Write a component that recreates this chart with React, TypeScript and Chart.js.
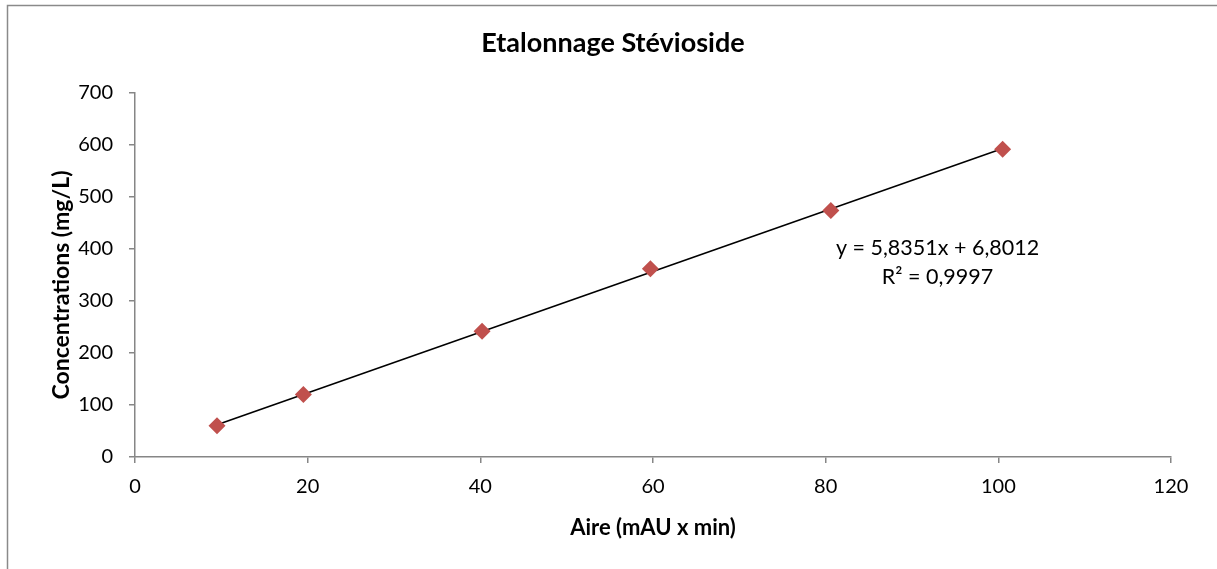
import React, { useEffect, useRef } from "react";
import { Chart, registerables } from "chart.js";

Chart.register(...registerables);

const chartTitle = "Etalonnage Stévioside";
const xAxisTitle = "Aire (mAU x min)";
const yAxisTitle = "Concentrations (mg/L)";

const areaValues = [9.5, 19.5, 40.2, 59.7, 80.6, 100.5];
const concentrationValues = [60, 120, 242, 362, 474, 592];

const slope = 5.8351;
const intercept = 6.8012;
const equationText = "y = 5,8351x + 6,8012";
const r2Text = "R² = 0,9997";

const xMin = 0;
const xMax = 120;
const xStep = 20;
const yMin = 0;
const yMax = 700;
const yStep = 100;

const FONT = "Lato, 'Open Sans', sans-serif";
const AXIS_COLOR = "#868686";
const MARKER_COLOR = "#C0504D";

export default function App() {
  const canvasRef = useRef<HTMLCanvasElement | null>(null);

  useEffect(() => {
    document.body.style.margin = "0";
    const canvas = canvasRef.current;
    if (!canvas) return;

    const scatterData = areaValues.map((x, i) => ({ x, y: concentrationValues[i] }));
    const x0 = Math.min(...areaValues);
    const x1 = Math.max(...areaValues);
    const trendData = [
      { x: x0, y: slope * x0 + intercept },
      { x: x1, y: slope * x1 + intercept },
    ];

    const framePlugin = {
      id: "frame",
      beforeDraw(chart: any) {
        const ctx = chart.ctx;
        ctx.save();
        ctx.fillStyle = "#ffffff";
        ctx.fillRect(0, 0, chart.width, chart.height);
        ctx.strokeStyle = "#8a8a8a";
        ctx.lineWidth = 1.5;
        ctx.beginPath();
        ctx.moveTo(7.5, chart.height + 5);
        ctx.lineTo(7.5, 5.5);
        ctx.lineTo(chart.width + 5, 5.5);
        ctx.stroke();
        ctx.restore();
      },
      afterDraw(chart: any) {
        const ctx = chart.ctx;
        ctx.save();
        ctx.fillStyle = "#000000";
        ctx.font = `bold 27px ${FONT}`;
        ctx.textAlign = "center";
        ctx.textBaseline = "alphabetic";
        ctx.fillText(chartTitle, 613, 52);
        ctx.restore();

        ctx.save();
        ctx.fillStyle = "#000000";
        ctx.font = `bold 23px ${FONT}`;
        ctx.textAlign = "center";
        ctx.textBaseline = "middle";
        ctx.translate(62, 285);
        ctx.rotate(-Math.PI / 2);
        ctx.fillText(yAxisTitle, 0, 0);
        ctx.restore();
      },
    };

    const equationPlugin = {
      id: "equation",
      afterDatasetsDraw(chart: any) {
        const ctx = chart.ctx;
        const xs = chart.scales.x;
        const ys = chart.scales.y;
        const cx = xs.getPixelForValue(92.96);
        const y1 = ys.getPixelForValue(388.5);
        const y2 = ys.getPixelForValue(332.7);
        ctx.save();
        ctx.fillStyle = "#000000";
        ctx.font = `21.5px ${FONT}`;
        ctx.textAlign = "center";
        ctx.textBaseline = "alphabetic";
        ctx.fillText(equationText, cx, y1);
        ctx.fillText(r2Text, cx, y2);
        ctx.restore();
      },
    };

    const chart = new Chart(canvas, {
      type: "scatter",
      data: {
        datasets: [
          {
            type: "line",
            label: "Tendance",
            data: trendData,
            borderColor: "#000000",
            borderWidth: 1.6,
            pointRadius: 0,
            fill: false,
            tension: 0,
            order: 2,
          } as any,
          {
            label: "Stévioside",
            data: scatterData,
            pointStyle: "rectRot",
            pointRadius: 8.5,
            pointHoverRadius: 8.5,
            backgroundColor: MARKER_COLOR,
            borderColor: MARKER_COLOR,
            borderWidth: 0,
            order: 1,
          },
        ],
      },
      options: {
        responsive: false,
        animation: false,
        devicePixelRatio: 1,
        layout: { padding: { left: 0, right: 46, top: 93, bottom: 0 } },
        plugins: {
          legend: { display: false },
          tooltip: { enabled: false },
          title: { display: false },
        },
        scales: {
          x: {
            type: "linear",
            min: xMin,
            max: xMax,
            ticks: {
              stepSize: xStep,
              color: "#000000",
              font: { family: FONT, size: 20 },
              padding: 12,
            },
            grid: {
              drawOnChartArea: false,
              drawTicks: true,
              tickLength: 6,
              color: AXIS_COLOR,
              lineWidth: 1.5,
            },
            border: { display: true, color: AXIS_COLOR, width: 1.5 },
            title: {
              display: true,
              text: xAxisTitle,
              color: "#000000",
              font: { family: FONT, size: 22, weight: "bold" },
              padding: { top: 0, bottom: 28 },
            },
            afterFit: (scale: any) => {
              scale.height = 112;
            },
          },
          y: {
            type: "linear",
            min: yMin,
            max: yMax,
            ticks: {
              stepSize: yStep,
              color: "#000000",
              font: { family: FONT, size: 20 },
              padding: 16,
            },
            grid: {
              drawOnChartArea: false,
              drawTicks: true,
              tickLength: 6,
              color: AXIS_COLOR,
              lineWidth: 1.5,
            },
            border: { display: true, color: AXIS_COLOR, width: 1.5 },
            title: { display: false, text: yAxisTitle },
            afterFit: (scale: any) => {
              scale.width = 135;
            },
          },
        },
      },
      plugins: [framePlugin, equationPlugin],
    });

    return () => {
      chart.destroy();
    };
  }, []);

  return (
    <div style={{ width: 1217, height: 569 }}>
      <canvas ref={canvasRef} width={1217} height={569} style={{ display: "block" }} />
    </div>
  );
}
